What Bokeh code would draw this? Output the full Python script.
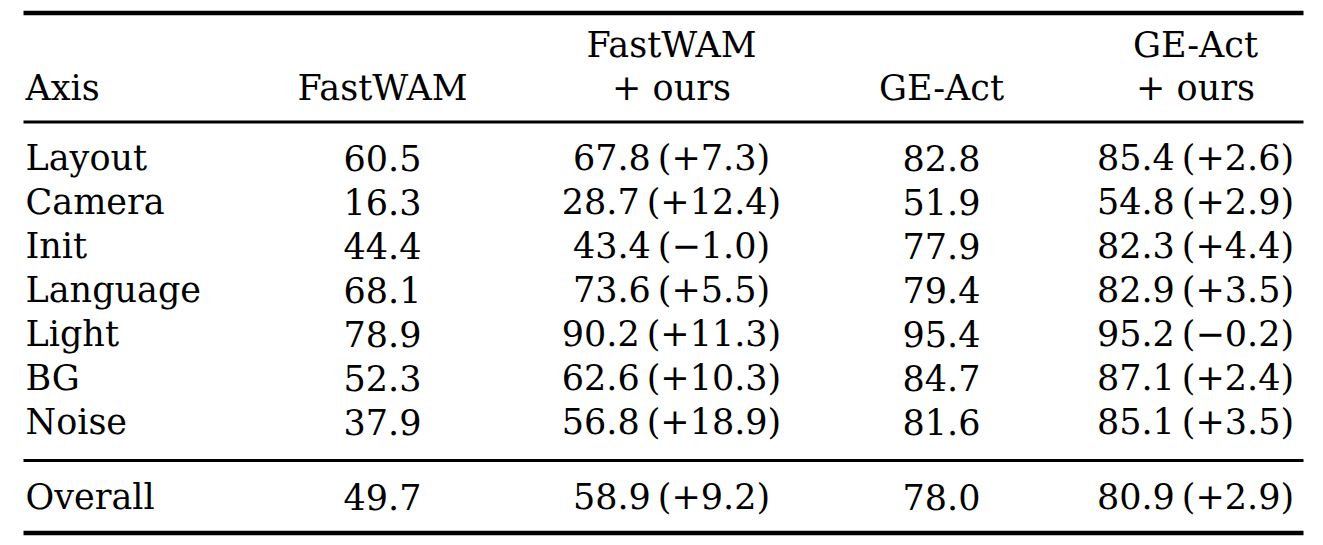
from bokeh.plotting import figure
from bokeh.models import ColumnDataSource, Range1d
from bokeh.core.properties import value
from bokeh.embed import file_html
from bokeh.resources import INLINE

axes = ["Layout", "Camera", "Init", "Language", "Light", "BG", "Noise"]
fastwam = [60.5, 16.3, 44.4, 68.1, 78.9, 52.3, 37.9]
fastwam_ours = [67.8, 28.7, 43.4, 73.6, 90.2, 62.6, 56.8]
fastwam_delta = [7.3, 12.4, -1.0, 5.5, 11.3, 10.3, 18.9]
geact = [82.8, 51.9, 77.9, 79.4, 95.4, 84.7, 81.6]
geact_ours = [85.4, 54.8, 82.3, 82.9, 95.2, 87.1, 85.1]
geact_delta = [2.6, 2.9, 4.4, 3.5, -0.2, 2.4, 3.5]

overall = ["Overall", 49.7, 58.9, 9.2, 78.0, 80.9, 2.9]

header_top = ["", "", "FastWAM", "", "GE-Act"]
header_bottom = ["Axis", "FastWAM", "+ ours", "GE-Act", "+ ours"]

FONT = "DejaVu Serif"
SIZE = "35px"

# layout (screen pixels)
col_x = [25, 382, 671, 941, 1195]
row_y = [157, 201, 245, 289, 333, 377, 421]
overall_y = 496
head_y = [44, 87]


def num(v):
    return f"{v:.1f}"


def with_delta(v, d):
    s = f"+{d:.1f}" if d >= 0 else f"\u2212{abs(d):.1f}"
    return f"{v:.1f}\u2009({s})"


p = figure(width=1307, height=537, x_range=Range1d(0, 1307), y_range=Range1d(537, 0),
           toolbar_location=None, output_backend="svg", min_border=0)
p.axis.visible = False
p.grid.visible = False
p.outline_line_color = None
p.background_fill_color = "white"

# rules
p.segment(x0=[23, 23], x1=[1303, 1303], y0=[12.5, 532.5], y1=[12.5, 532.5],
          line_color="black", line_width=4.5)
p.segment(x0=[23, 23], x1=[1303, 1303], y0=[121.5, 460], y1=[121.5, 460],
          line_color="black", line_width=3)

# body
xs, ys, txt, align = [], [], [], []
rows = [[a, num(f), with_delta(fo, fd), num(g), with_delta(go, gd)]
        for a, f, fo, fd, g, go, gd in zip(axes, fastwam, fastwam_ours, fastwam_delta,
                                            geact, geact_ours, geact_delta)]
rows.append([overall[0], num(overall[1]), with_delta(overall[2], overall[3]),
             num(overall[4]), with_delta(overall[5], overall[6])])
for r, y in zip(rows, row_y + [overall_y]):
    for j, t in enumerate(r):
        xs.append(col_x[j])
        ys.append(y)
        txt.append(t)
        align.append("left" if j == 0 else "center")

for hy, hs in zip(head_y, [header_top, header_bottom]):
    for j, t in enumerate(hs):
        if t:
            xs.append(col_x[j])
            ys.append(hy)
            txt.append(t)
            align.append("left" if j == 0 else "center")

src = ColumnDataSource(data=dict(x=xs, y=ys, text=txt, align=align))
p.text(x="x", y="y", text="text", text_align="align", text_baseline="middle",
       text_font=value(FONT), text_font_size=SIZE, text_color="black", source=src)

open("out.html", "w").write(file_html(p, INLINE))
